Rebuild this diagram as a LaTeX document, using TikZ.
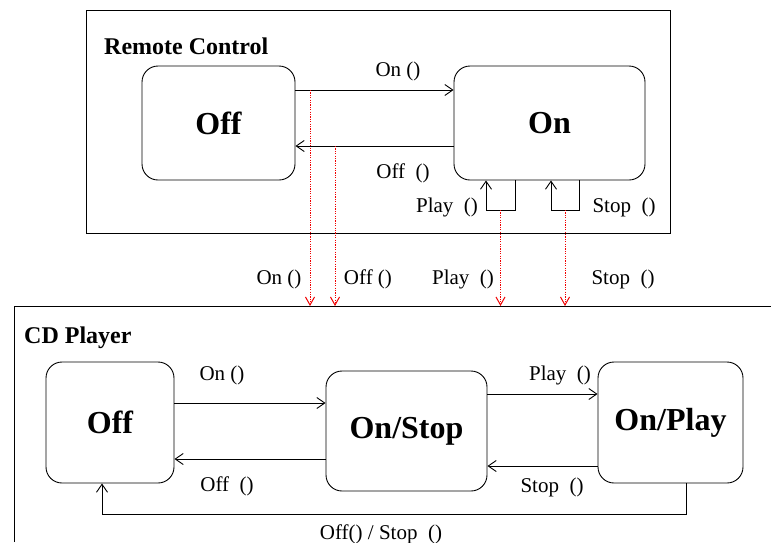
\documentclass[tikz,border=0pt]{standalone}
\usepackage{fontspec}
\setmainfont{Liberation Serif}
\usepackage{tikz}
\usetikzlibrary{arrows.meta,calc}
\definecolor{signalred}{RGB}{240,0,0}
\tikzset{
  state-node/.style={draw, line width=0.9pt, rounded corners=16pt,
    font=\fontsize{32}{36}\selectfont\bfseries, align=center, inner sep=0pt},
  title-text/.style={font=\fontsize{24}{28}\selectfont\bfseries, anchor=base west, inner sep=0pt},
  event-label/.style={font=\fontsize{21}{25}\selectfont, anchor=base, inner sep=0pt},
  trans-arrow/.style={-{Straight Barb[length=8pt,width=11pt]}, line width=0.9pt},
  signal-arrow/.style={-{Straight Barb[length=8pt,width=9pt]}, dash pattern=on 1.2pt off 1.2pt,
    line width=1pt, draw=signalred},
  frame-line/.style={line width=1pt}
}

\begin{document}
\begin{tikzpicture}[x=1pt, y=-1pt]
\useasboundingbox (0,0) rectangle (771,542);
\draw[frame-line] (86,10) rectangle (670,233);
\draw[frame-line] (14,542) -- (14,306) -- (771,306);
\coordinate (cdtop) at (14,306);
\node[title-text] (rtitle) at (104,54) {Remote Control};
\node[title-text] (ctitle) at (24,343) {CD Player};

\node[state-node, minimum width=153pt, minimum height=114pt] (roff) at (218.5,123) {Off};
\node[state-node, minimum width=191pt, minimum height=114pt] (ron) at (549.5,123) {On};
\draw[trans-arrow] ([yshift=33pt]roff.east) -- ([yshift=33pt]ron.west);
\draw[trans-arrow] ([yshift=-23pt]ron.west) -- ([yshift=-23pt]roff.east);
\draw[trans-arrow] ([xshift=-34.5pt]ron.south) -- ++(0,30) -| ([xshift=-63.5pt]ron.south);
\draw[trans-arrow] ([xshift=29.5pt]ron.south) -- ++(0,30) -| ([xshift=1.5pt]ron.south);
\node[event-label] (ron-lbl) at (398,76) {On ()};
\node[event-label] (roff-lbl) at (403,178) {Off\ \ ()};
\node[event-label] (rplay-lbl) at (447,212) {Play\ \ ()};
\node[event-label] (rstop-lbl) at (624,212) {Stop\ \ ()};

\coordinate (on-tap) at (310,90);
\coordinate (off-tap) at (335,146);
\coordinate (play-tap) at (500.5,210);
\coordinate (stop-tap) at (565,210);
\draw[signal-arrow] (on-tap) -- (on-tap |- cdtop);
\draw[signal-arrow] (off-tap) -- (off-tap |- cdtop);
\draw[signal-arrow] (play-tap) -- (play-tap |- cdtop);
\draw[signal-arrow] (stop-tap) -- (stop-tap |- cdtop);
\node[event-label] (on-sig) at (279,284) {On ()};
\node[event-label] (off-sig) at (368,284) {Off ()};
\node[event-label] (play-sig) at (463,284) {Play\ \ ()};
\node[event-label] (stop-sig) at (623,284) {Stop\ \ ()};

\node[state-node, minimum width=128pt, minimum height=121pt] (coff) at (110,422.5) {Off};
\node[state-node, minimum width=161pt, minimum height=120pt] (cstop) at (406.5,431) {On/Stop};
\node[state-node, minimum width=145pt, minimum height=121pt] (cplay) at (670.5,422.5) {On/Play};
\draw[trans-arrow] ([yshift=19.5pt]coff.east) -- ([yshift=28pt]cstop.west);
\draw[trans-arrow] ([yshift=-28pt]cstop.west) -- ([yshift=-36.5pt]coff.east);
\draw[trans-arrow] ([yshift=37pt]cstop.east) -- ([yshift=28.5pt]cplay.west);
\draw[trans-arrow] ([yshift=-43.5pt]cplay.west) -- ([yshift=-35pt]cstop.east);
\draw[trans-arrow] ([xshift=15.5pt]cplay.south) -- ++(0,31) -| ([xshift=-8pt]coff.south);
\node[event-label] (con-lbl) at (222,380) {On ()};
\node[event-label] (coff-lbl) at (227,491) {Off\ \ ()};
\node[event-label] (cplay-lbl) at (560,380) {Play\ \ ()};
\node[event-label] (cstop-lbl) at (552,492) {Stop\ \ ()};
\node[event-label] (cback-lbl) at (381,539) {Off() / Stop\ \ ()};
\end{tikzpicture}
\end{document}
